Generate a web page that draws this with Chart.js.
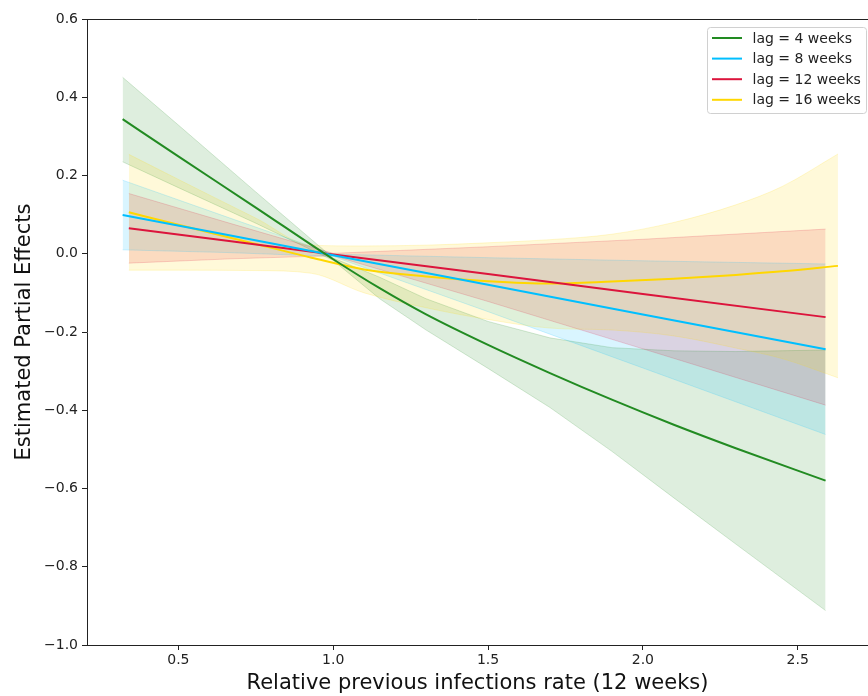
<!DOCTYPE html>
<html>
<head>
<meta charset="utf-8">
<script src="https://cdn.jsdelivr.net/npm/chart.js@4.4.1/dist/chart.umd.min.js"></script>
<style>
  body { margin: 0; background: #fff; }
  #wrap { width: 868px; height: 696px; }
</style>
</head>
<body>
<div id="wrap"><canvas id="effects" width="868" height="696"></canvas></div>
<script>
// axis ticks
const xTicks = [0.5, 1.0, 1.5, 2.0, 2.5];
const yTicks = [-1.0, -0.8, -0.6, -0.4, -0.2, 0.0, 0.2, 0.4, 0.6];

const seriesNames = ['lag = 4 weeks', 'lag = 8 weeks', 'lag = 12 weeks', 'lag = 16 weeks'];

// lag = 4 weeks
const xLag4 = [0.32, 0.5, 0.75, 1.0, 1.15, 1.3, 1.5, 1.7, 1.9, 2.1, 2.3, 2.59];
const yLag4 = [0.344, 0.249, 0.118, -0.014, -0.088, -0.155, -0.233, -0.305, -0.373, -0.437, -0.497, -0.580];
const loLag4 = [0.235, 0.169, 0.078, -0.017, -0.115, -0.195, -0.293, -0.393, -0.505, -0.624, -0.742, -0.912];
const hiLag4 = [0.451, 0.329, 0.158, -0.011, -0.06, -0.115, -0.173, -0.215, -0.24, -0.248, -0.25, -0.246];

// lag = 8 weeks
const xLag8 = [0.32, 0.66, 1.0, 1.5, 2.0, 2.59];
const yLag8 = [0.099, 0.048, -0.004, -0.079, -0.155, -0.244];
const loLag8 = [0.010, 0.003, -0.007, -0.148, -0.292, -0.462];
const hiLag8 = [0.188, 0.093, -0.001, -0.010, -0.018, -0.026];

// lag = 12 weeks
const xLag12 = [0.34, 0.67, 1.0, 1.5, 2.0, 2.59];
const yLag12 = [0.065, 0.032, -0.002, -0.052, -0.103, -0.162];
const loLag12 = [-0.024, -0.013, -0.005, -0.122, -0.243, -0.387];
const hiLag12 = [0.154, 0.077, 0.001, 0.018, 0.037, 0.063];

// lag = 16 weeks
const xLag16 = [0.34, 0.5, 0.75, 0.93, 1.1, 1.3, 1.5, 1.7, 1.9, 2.1, 2.3, 2.45, 2.63];
const yLag16 = [0.106, 0.074, 0.025, -0.01, -0.04, -0.058, -0.07, -0.076, -0.071, -0.064, -0.054, -0.045, -0.031];
const loLag16 = [-0.042, -0.042, -0.043, -0.05, -0.1, -0.138, -0.168, -0.19, -0.195, -0.21, -0.241, -0.268, -0.317];
const hiLag16 = [0.254, 0.19, 0.091, 0.022, 0.02, 0.022, 0.028, 0.036, 0.05, 0.08, 0.125, 0.172, 0.255];

const colors = ['34,139,34', '0,191,255', '220,20,60', '255,215,0'];
// smooth curves only where the picture bends
const smooth = [true, false, false, true];

function pts(xs, ys) {
  return xs.map((x, i) => ({ x: x, y: ys[i] }));
}

const series = [
  [xLag4, yLag4, loLag4, hiLag4],
  [xLag8, yLag8, loLag8, hiLag8],
  [xLag12, yLag12, loLag12, hiLag12],
  [xLag16, yLag16, loLag16, hiLag16]
];

let datasets = [];
// lines first (drawn last, so on top)
series.forEach((s, i) => {
  datasets.push({
    label: seriesNames[i],
    data: pts(s[0], s[1]),
    borderColor: 'rgb(' + colors[i] + ')',
    borderWidth: 2,
    pointRadius: 0,
    fill: false,
    cubicInterpolationMode: smooth[i] ? 'monotone' : 'default',
    tension: 0,
    isLine: true
  });
});
// bands, last series first so the first series' band is painted first
for (let i = series.length - 1; i >= 0; i--) {
  let s = series[i];
  let mode = i == 3 ? 'monotone' : 'default';
  datasets.push({
    label: 'band' + i,
    data: pts(s[0], s[3]),
    borderColor: 'rgba(' + colors[i] + ',0.18)',
    backgroundColor: 'rgba(' + colors[i] + ',0.15)',
    borderWidth: 1,
    pointRadius: 0,
    fill: '+1',
    cubicInterpolationMode: mode,
    tension: 0
  });
  datasets.push({
    label: 'band' + i + 'lo',
    data: pts(s[0], s[2]),
    borderColor: 'rgba(' + colors[i] + ',0.18)',
    borderWidth: 1,
    pointRadius: 0,
    fill: false,
    cubicInterpolationMode: mode,
    tension: 0
  });
}

function fmt(v) {
  if (Math.abs(v) < 1e-9) v = 0;
  return v.toFixed(1).replace('-', '\u2212');
}

const frame = {
  id: 'frame',
  afterDatasetsDraw(chart) {
    const a = chart.chartArea, c = chart.ctx;
    c.save();
    c.strokeStyle = '#222';
    c.lineWidth = 1;
    c.beginPath();
    c.moveTo(a.left, a.top + 0.5);
    c.lineTo(a.right, a.top + 0.5);
    c.stroke();
    c.restore();
  }
};

const legendBox = {
  id: 'legendBox',
  afterDraw(chart) {
    const c = chart.ctx;
    const lines = chart.data.datasets.filter(d => d.isLine);
    const x0 = 707, y0 = 27, w = 160, h = 86;
    c.save();
    c.beginPath();
    c.roundRect(x0 + 0.5, y0 + 0.5, w - 1, h, 3);
    c.fillStyle = 'rgba(255,255,255,0.8)';
    c.fill();
    c.strokeStyle = '#d0d0d0';
    c.lineWidth = 1;
    c.stroke();
    c.font = '14px "DejaVu Sans"';
    c.textBaseline = 'middle';
    lines.forEach((d, i) => {
      const y = 38 + i * 20.6;
      c.strokeStyle = d.borderColor;
      c.lineWidth = 2;
      c.beginPath();
      c.moveTo(712, y);
      c.lineTo(742, y);
      c.stroke();
      c.fillStyle = '#222';
      c.fillText(d.label, 752.5, y + 1);
    });
    c.restore();
  }
};

const ctx = document.getElementById('effects').getContext('2d');
const chart = new Chart(ctx, {
  type: 'line',
  data: { datasets: datasets },
  options: {
    responsive: false,
    animation: false,
    layout: { padding: { top: 19, right: 0, left: 0, bottom: 0 } },
    plugins: {
      legend: { display: false },
      tooltip: { enabled: false },
      filler: { drawTime: 'beforeDatasetsDraw' }
    },
    scales: {
      x: {
        type: 'linear',
        min: 0.205,
        max: 2.727,
        afterBuildTicks: axis => { axis.ticks = xTicks.map(v => ({ value: v })); },
        afterFit: s => { s.height = 51; },
        ticks: {
          callback: v => fmt(v),
          color: '#222',
          font: { family: 'DejaVu Sans', size: 14 },
          padding: 2,
          maxRotation: 0
        },
        grid: { display: true, drawOnChartArea: false, drawTicks: true, tickLength: 5, color: '#222' },
        border: { display: true, color: '#222', width: 1 },
        title: {
          display: true,
          text: 'Relative previous infections rate (12 weeks)',
          color: '#111',
          font: { family: 'DejaVu Sans', size: 21 },
          padding: { top: 0, bottom: 0 }
        }
      },
      y: {
        type: 'linear',
        min: -1.0,
        max: 0.6,
        afterBuildTicks: axis => { axis.ticks = yTicks.map(v => ({ value: v })); },
        afterFit: s => { s.width = 87; },
        ticks: {
          callback: v => fmt(v),
          color: '#222',
          font: { family: 'DejaVu Sans', size: 14 },
          padding: 4
        },
        grid: { display: true, drawOnChartArea: false, drawTicks: true, tickLength: 5, color: '#222' },
        border: { display: true, color: '#222', width: 1 },
        title: {
          display: true,
          text: 'Estimated Partial Effects',
          color: '#111',
          font: { family: 'DejaVu Sans', size: 21 },
          padding: { top: 12, bottom: 0 }
        }
      }
    }
  },
  plugins: [frame, legendBox]
});
</script>
</body>
</html>
